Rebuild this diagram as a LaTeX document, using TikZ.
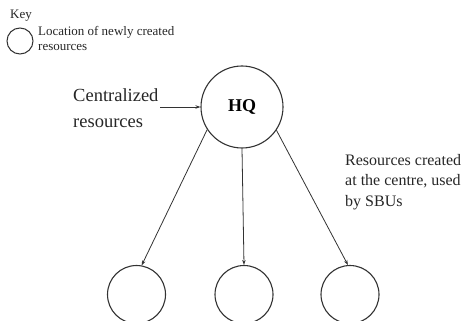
\documentclass[tikz,border=0pt]{standalone}
\usepackage{fontspec}
\setmainfont{Liberation Serif}
\usetikzlibrary{arrows.meta}
\begin{document}
\begin{tikzpicture}[x=1pt,y=-1pt,
  res/.style={circle,draw=black!80,line width=1.1pt,inner sep=0pt,minimum size=58pt},
  conn/.style={draw=black!80,line width=0.8pt,-{Stealth[length=5pt,width=3.5pt]}},
  lbl/.style={text=black!85,inner sep=0pt,align=left}]
\useasboundingbox (0,0) rectangle (466,321);
% key
\node[lbl,anchor=base west,font=\fontsize{13}{15}\selectfont] (key) at (10,19) {Key};
\node[circle,draw=black!80,line width=1pt,minimum size=26pt,inner sep=0pt] (keyc) at (20,41) {};
\node[lbl,anchor=base west,font=\fontsize{13}{15}\selectfont] (keyt) at (38,51) {Location of newly created\\resources};
% HQ
\node[circle,draw=black!80,line width=1.1pt,inner sep=0pt,minimum size=82pt,
      font=\fontsize{18}{20}\selectfont\bfseries] (hq) at (242,107) {HQ};
\node[lbl,anchor=base west,font=\fontsize{18.5}{27}\selectfont] (cent) at (73,128) {Centralized\\resources};
\coordinate (cstart) at (160,107);
\draw[conn] (cstart) -- (hq.west);
% SBUs
\node[res] (b1) at (136.5,294.5) {};
\node[res] (b2) at (244,294.5) {};
\node[res] (b3) at (350,294.5) {};
\draw[conn] (hq.213) -- (b1.80);
\draw[conn] (hq.south) -- (b2.north);
\draw[conn] (hq.326) -- (b3.94);
\node[lbl,anchor=base west,font=\fontsize{16}{20.5}\selectfont] (rtxt) at (345,206) {Resources created\\at the centre, used\\by SBUs};
\end{tikzpicture}
\end{document}
